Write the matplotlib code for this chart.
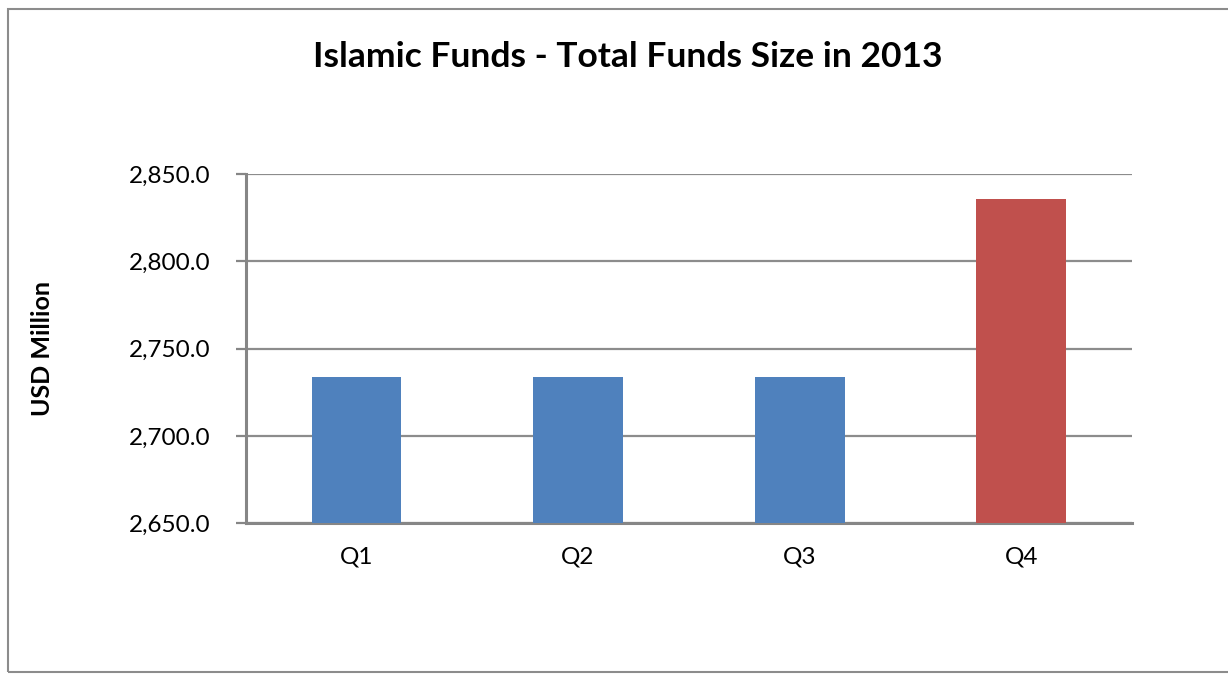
"""Islamic funds - total fund size by quarter, 2013."""
import matplotlib.pyplot as plt
from matplotlib.patches import Rectangle
from matplotlib.ticker import FuncFormatter

plt.rcParams["font.family"] = ["Lato", "DejaVu Sans"]

# --- Data ---
quarters = ["Q1", "Q2", "Q3", "Q4"]
fund_size = [2733.6, 2733.6, 2733.6, 2835.7]
bar_colors = ["#4F81BD", "#4F81BD", "#4F81BD", "#C0504D"]
y_ticks = [2650, 2700, 2750, 2800, 2850]

fig = plt.figure(figsize=(12.28, 6.77), dpi=100)
ax = fig.add_axes([245.7 / 1228, 1 - 523.3 / 677, 886.3 / 1228, 349.3 / 677])

x = range(len(quarters))
ax.bar(x, fund_size, width=0.406, color=bar_colors, zorder=3)

ax.set_xlim(-0.5, len(quarters) - 0.5)
ax.set_ylim(y_ticks[0], y_ticks[-1])
ax.set_yticks(y_ticks)
ax.yaxis.set_major_formatter(FuncFormatter(lambda v, _: f"{v:,.1f}"))
ax.set_xticks(list(x))
ax.set_xticklabels(quarters)

ax.grid(axis="y", color="#8c8c8c", linewidth=1.6, zorder=0)
for side in ["top", "right"]:
    ax.spines[side].set_visible(False)
for side in ["left", "bottom"]:
    ax.spines[side].set_color("#868686")
    ax.spines[side].set_linewidth(2.2)
ax.tick_params(axis="y", length=7.5, width=1.6, color="#868686", labelsize=17.5, pad=17.5)
ax.tick_params(axis="x", length=0, labelsize=17.5, pad=17)

ax.set_ylabel("USD Million", fontsize=18, fontweight="bold", labelpad=54)
fig.text(628 / 1228, 1 - 57 / 677, "Islamic Funds - Total Funds Size in 2013",
         ha="center", va="center", fontsize=25.5, fontweight="bold")

# Chart border (right edge runs off the picture)
fig.patches.append(Rectangle((8 / 1228, 5 / 677), 1230 / 1228, 663 / 677,
                             transform=fig.transFigure, fill=False,
                             edgecolor="#8c8c8c", linewidth=1.5))

fig.savefig("out.png", dpi=100)
